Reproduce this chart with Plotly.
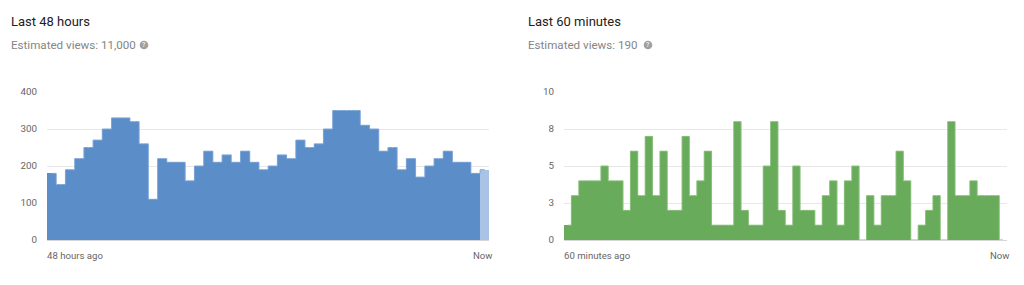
import plotly.graph_objects as go

W, H = 1024, 285

# ---- data ----
hours_views = [180, 150, 190, 220, 250, 270, 300, 330, 330, 320, 260, 110,
               220, 210, 210, 160, 200, 240, 210, 230, 210, 240, 210, 190,
               200, 230, 220, 270, 250, 260, 300, 350, 350, 350, 310, 300,
               240, 250, 190, 220, 170, 200, 220, 240, 210, 210, 180, 190]
minutes_views = [1, 3, 4, 4, 4, 5, 4, 4, 2, 6, 3, 7, 3, 6, 2, 2, 7, 3, 4, 6,
                 1, 1, 1, 8, 2, 1, 1, 5, 8, 2, 1, 5, 2, 2, 1, 3, 4, 1, 4, 5,
                 0, 3, 1, 3, 3, 6, 4, 0, 1, 2, 3, 0, 8, 3, 3, 4, 3, 3, 3, 0]
left_ticks = [0, 100, 200, 300, 400]
right_tickvals = [0, 2.5, 5, 7.5, 10]
right_ticktext = ["0", "3", "5", "8", "10"]
titles = ["Last 48 hours", "Last 60 minutes"]
subtitles = ["Estimated views: 11,000", "Estimated views: 190"]
x_start_labels = ["48 hours ago", "60 minutes ago"]
x_end_label = "Now"

BLUE = "#5b8dc9"
BLUE_LIGHT = "#a9c3e4"
BLUE_EDGE = "#7ea6d6"
GREEN = "#68ab5a"
GREEN_EDGE = "#8cc07e"
GRID = "#e8e8e8"
TICK = "#666666"


def px_x(p):
    return p / W


def px_y(p):
    return 1 - p / H


FONT = "Roboto, Arial, sans-serif"

fig = go.Figure()

hx = list(range(len(hours_views)))
hcolors = [BLUE] * (len(hours_views) - 1) + [BLUE_LIGHT]
fig.add_trace(go.Bar(x=hx, y=hours_views, marker=dict(color=hcolors, line=dict(width=0)),
                     xaxis="x", yaxis="y", hoverinfo="y"))
fig.add_trace(go.Scatter(x=hx, y=hours_views, mode="lines", line=dict(shape="hvh", color=BLUE_EDGE, width=1),
                         xaxis="x", yaxis="y", hoverinfo="skip"))

mx = list(range(len(minutes_views)))
fig.add_trace(go.Bar(x=mx, y=minutes_views, marker=dict(color=GREEN, line=dict(width=0)),
                     xaxis="x2", yaxis="y2", hoverinfo="y"))
fig.add_trace(go.Scatter(x=mx, y=minutes_views, mode="lines", line=dict(shape="hvh", color=GREEN_EDGE, width=1),
                         xaxis="x2", yaxis="y2", hoverinfo="skip"))

ydom = [px_y(240), px_y(92)]
common_x = dict(showgrid=False, zeroline=False, showticklabels=False, showline=False,
                fixedrange=True, automargin=False)
common_y = dict(showgrid=True, gridcolor=GRID, gridwidth=1, zeroline=True, zerolinecolor="#d6d6d6",
                zerolinewidth=1, showline=False, ticks="", ticklabelstandoff=9, automargin=False,
                tickfont=dict(family=FONT, size=9.8, color=TICK), domain=ydom, fixedrange=True)

fig.update_layout(
    template="none",
    width=W, height=H, autosize=False,
    margin=dict(l=0, r=0, t=0, b=0, pad=0, autoexpand=False),
    paper_bgcolor="white", plot_bgcolor="white",
    showlegend=False, bargap=0,
    font=dict(family=FONT),
    xaxis=dict(domain=[px_x(47), px_x(489.3)], range=[-0.5, len(hours_views) - 0.5], **common_x),
    yaxis=dict(anchor="x", range=[0, 400], tickvals=left_ticks, **common_y),
    xaxis2=dict(domain=[px_x(564), px_x(1006.7)], range=[-0.5, len(minutes_views) - 0.5], **common_x),
    yaxis2=dict(anchor="x2", range=[0, 10], tickvals=right_tickvals, ticktext=right_ticktext, **common_y),
)

anns = []
lefts = [9, 526]
plot_l = [45, 562]
plot_r = [495, 1012]
icon_x = [144, 648]
for i in range(2):
    anns.append(dict(text=titles[i], x=px_x(lefts[i]), y=px_y(21), xref="paper", yref="paper",
                     xanchor="left", yanchor="middle", showarrow=False,
                     font=dict(family=FONT, size=13, color="#212121")))
    anns.append(dict(text=subtitles[i], x=px_x(lefts[i]), y=px_y(45), xref="paper", yref="paper",
                     xanchor="left", yanchor="middle", showarrow=False,
                     font=dict(family=FONT, size=11.6, color="#858585")))
    anns.append(dict(text="?", x=px_x(icon_x[i]), y=px_y(45), xref="paper", yref="paper",
                     xanchor="center", yanchor="middle", showarrow=False,
                     font=dict(family=FONT, size=7, color="white")))
    anns.append(dict(text=x_start_labels[i], x=px_x(plot_l[i]), y=px_y(255.5), xref="paper", yref="paper",
                     xanchor="left", yanchor="middle", showarrow=False,
                     font=dict(family=FONT, size=9.6, color=TICK)))
    anns.append(dict(text=x_end_label, x=px_x(plot_r[i]), y=px_y(255.5), xref="paper", yref="paper",
                     xanchor="right", yanchor="middle", showarrow=False,
                     font=dict(family=FONT, size=9.6, color=TICK)))

shapes = []
for i in range(2):
    shapes.append(dict(type="circle", xref="paper", yref="paper",
                       x0=px_x(icon_x[i] - 4.3), x1=px_x(icon_x[i] + 4.3),
                       y0=px_y(45 + 4.3), y1=px_y(45 - 4.3),
                       fillcolor="#a0a0a0", line=dict(width=0), layer="below"))

fig.update_layout(annotations=anns, shapes=shapes)

fig.write_html("out.html")
